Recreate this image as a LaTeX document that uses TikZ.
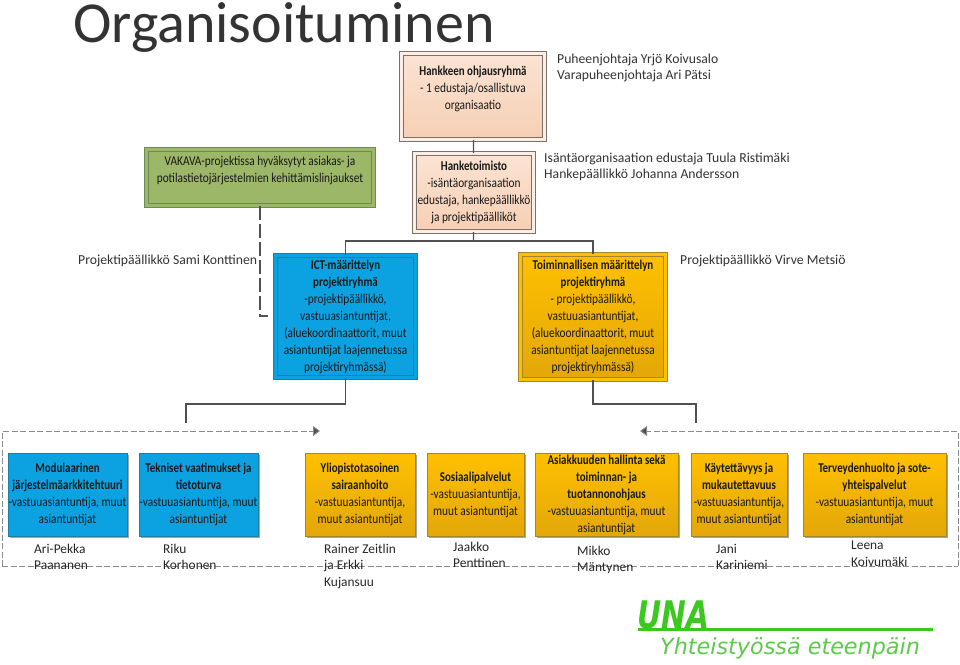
\documentclass[tikz,border=0pt]{standalone}
\usepackage{fontspec}
\usepackage{tikz}
\usetikzlibrary{arrows.meta,shadows}
\setmainfont{Carlito}
\newfontfamily\narrowFont[FakeStretch=0.84, BoldFeatures={FakeStretch=0.81}]{Carlito}
\newfontfamily\unaFont[FakeStretch=0.78]{DejaVu Sans}
\newfontfamily\sloganFont{DejaVu Sans}
\newcommand{\boxSize}[0]{\fontsize{13.5}{17}\selectfont}
\newcommand{\groupName}[1]{\textbf{#1}}
\definecolor{frameGray}{HTML}{8A8A8A}
\definecolor{lineGray}{HTML}{505050}
\definecolor{blueFill}{HTML}{0CA2E2}
\definecolor{blueEdge}{HTML}{1E7FA6}
\definecolor{goldTop}{HTML}{FFC000}
\definecolor{goldBottom}{HTML}{E3A708}
\definecolor{goldEdge}{HTML}{A5842A}
\definecolor{peachTop}{HTML}{FBE3D3}
\definecolor{peachBottom}{HTML}{F6CFB4}
\definecolor{peachEdge}{HTML}{7D7067}
\definecolor{greenFill}{HTML}{9DB768}
\definecolor{greenEdge}{HTML}{6F8A55}
\definecolor{unaGreen}{HTML}{3CC81E}
\definecolor{sloganGreen}{HTML}{5CCB48}

\begin{document}
\begin{tikzpicture}[x=1pt, y=-1pt]
  \tikzset{
    groupbox/.style={draw, align=center, inner sep=0pt, text=black!90, font=\narrowFont\boxSize,
      execute at begin node={\rule{0pt}{12.5pt}},
      drop shadow={shadow xshift=2pt, shadow yshift=-2pt, opacity=0.35, fill=black}},
    framed/.style={line width=0.8pt, double distance=3pt},
    bluebox/.style={groupbox, draw=blueEdge, fill=blueFill},
    goldbox/.style={groupbox, draw=goldEdge, top color=goldTop, bottom color=goldBottom},
    peachbox/.style={groupbox, framed, draw=peachEdge, double=white!40!peachTop, top color=peachTop, bottom color=peachBottom},
    greenbox/.style={groupbox, framed, draw=greenEdge, double=greenFill, fill=greenFill},
    person/.style={align=left, anchor=north west, inner sep=0pt, text=black!85, font=\fontsize{13.4}{16.4}\selectfont},
    role/.style={align=left, anchor=north west, inner sep=0pt, text=black!80, font=\fontsize{13.7}{16}\selectfont},
    tie/.style={draw=lineGray, line width=1.2pt},
    lowertie/.style={draw=lineGray, line width=1.5pt},
    frameline/.style={draw=frameGray, line width=0.9pt, dashed, dash pattern=on 6pt off 2.5pt}
  }
  \useasboundingbox (0,0) rectangle (960,664);
  \fill[white] (0,0) rectangle (960,664);

  \node[inner sep=0pt, anchor=base west, text=black!80, font=\fontsize{58}{58}\selectfont] (title) at (73,42) {Organisoituminen};

  \node[peachbox, minimum width=143.4pt, minimum height=86.4pt] (ohjaus) at (473,96.5)
    {\groupName{Hankkeen ohjausryhmä}\\- 1 edustaja/osallistuva\\organisaatio\\~};
  \node[peachbox, minimum width=119.4pt, minimum height=78.4pt] (toimisto) at (474,192.5)
    {\groupName{Hanketoimisto}\\-isäntäorganisaation\\edustaja, hankepäällikkö\\ja projektipäälliköt};
  \node[greenbox, minimum width=227.4pt, minimum height=56.4pt] (vakava) at (260,177.5)
    {VAKAVA-projektissa hyväksytyt asiakas- ja\\potilastietojärjestelmien kehittämislinjaukset\\~};

  \node[bluebox, framed, double=blueFill, minimum width=140.4pt, minimum height=122.4pt] (ict) at (345.5,316.5)
    {\groupName{ICT-määrittelyn}\\\groupName{projektiryhmä}\\-projektipäällikkö,\\vastuuasiantuntijat,\\(aluekoordinaattorit, muut\\asiantuntijat laajennetussa\\projektiryhmässä)};
  \node[goldbox, framed, double=goldTop, minimum width=145.4pt, minimum height=125.4pt] (toiminta) at (593,317)
    {\groupName{Toiminnallisen määrittelyn}\\\groupName{projektiryhmä}\\- projektipäällikkö,\\vastuuasiantuntijat,\\(aluekoordinaattorit, muut\\asiantuntijat laajennetussa\\projektiryhmässä)};

  \node[role] (puheenjohtaja) at (557,54) {Puheenjohtaja Yrjö Koivusalo\\Varapuheenjohtaja Ari Pätsi};
  \node[role] (isanta) at (544,153) {Isäntäorganisaation edustaja Tuula Ristimäki\\Hankepäällikkö Johanna Andersson};
  \node[role] (konttinen) at (78,255) {Projektipäällikkö Sami Konttinen};
  \node[role] (metsio) at (680,255) {Projektipäällikkö Virve Metsiö};

  \coordinate (hub) at (473.5,241);
  \coordinate (dashEnd) at (268,316);
  \coordinate (leftDrop) at (186,404);
  \coordinate (leftEnd) at (186,423);
  \coordinate (rightDrop) at (696,404);
  \coordinate (rightEnd) at (696,423);
  \coordinate (frameSW) at (2,566);
  \coordinate (frameSE) at (958,566);
  \coordinate (frameL) at (320,431);
  \coordinate (frameR) at (640,431);

  \draw[tie] (ohjaus) -- (toimisto);
  \draw[tie] (toimisto) -- (hub);
  \draw[tie] (ict.north) |- (hub) -| (toiminta.north);
  \draw[tie, dashed, dash pattern=on 14pt off 4pt] (vakava.south) |- (dashEnd);
  \draw[lowertie] (ict.south) |- (leftDrop) -- (leftEnd);
  \draw[lowertie] (toiminta.south) |- (rightDrop) -- (rightEnd);

  \draw[frameline] (frameSW) -- (frameSE);
  \draw[frameline, -{Triangle[length=7pt, width=10pt, fill=lineGray]}] (frameSW) |- (frameL);
  \draw[frameline, -{Triangle[length=7pt, width=10pt, fill=lineGray]}] (frameSE) |- (frameR);

  \node[bluebox, minimum width=119pt, minimum height=83pt] (modular) at (67.5,494.5)
    {\groupName{Modulaarinen}\\\groupName{järjestelmäarkkitehtuuri}\\-vastuuasiantuntija, muut\\asiantuntijat};
  \node[bluebox, minimum width=119pt, minimum height=83pt] (tekniset) at (198.5,494.5)
    {\groupName{Tekniset vaatimukset ja}\\\groupName{tietoturva}\\-vastuuasiantuntija, muut\\asiantuntijat};
  \node[goldbox, minimum width=110pt, minimum height=83pt] (yliopisto) at (360,494.5)
    {\groupName{Yliopistotasoinen}\\\groupName{sairaanhoito}\\-vastuuasiantuntija,\\muut asiantuntijat};
  \node[goldbox, minimum width=97pt, minimum height=83pt] (sosiaali) at (475.5,494.5)
    {\groupName{Sosiaalipalvelut}\\-vastuuasiantuntija,\\muut asiantuntijat};
  \node[goldbox, minimum width=143pt, minimum height=83pt] (asiakas) at (606.5,494.5)
    {\groupName{Asiakkuuden hallinta sekä}\\\groupName{toiminnan- ja}\\\groupName{tuotannonohjaus}\\-vastuuasiantuntija, muut\\asiantuntijat};
  \node[goldbox, minimum width=96pt, minimum height=83pt] (kaytto) at (739,494.5)
    {\groupName{Käytettävyys ja}\\\groupName{mukautettavuus}\\-vastuuasiantuntija,\\muut asiantuntijat};
  \node[goldbox, minimum width=143pt, minimum height=83pt] (terveys) at (874.5,494.5)
    {\groupName{Terveydenhuolto ja sote-}\\\groupName{yhteispalvelut}\\-vastuuasiantuntija, muut\\asiantuntijat};

  \node[person] (paananen) at (34,544) {Ari-Pekka\\Paananen};
  \node[person] (korhonen) at (163,544) {Riku\\Korhonen};
  \node[person] (zeitlin) at (324,544) {Rainer Zeitlin\\ja Erkki\\Kujansuu};
  \node[person] (penttinen) at (453,542) {Jaakko\\Penttinen};
  \node[person] (mantynen) at (577,546) {Mikko\\Mäntynen};
  \node[person] (kariniemi) at (716,544) {Jani\\Kariniemi};
  \node[person] (koivumaki) at (851,541) {Leena\\Koivumäki};

  \node[inner sep=0pt, anchor=base west, text=unaGreen, font=\unaFont\bfseries\itshape\fontsize{38}{38}\selectfont] (una) at (637,628) {UNA};
  \coordinate (ruleEnd) at (933,629.5);
  \draw[unaGreen, line width=3pt] (638,629.5) -- (ruleEnd);
  \node[inner sep=0pt, anchor=base west, text=sloganGreen, font=\sloganFont\itshape\fontsize{22.3}{22.3}\selectfont] (slogan) at (660,654) {Yhteistyössä eteenpäin};
\end{tikzpicture}
\end{document}
